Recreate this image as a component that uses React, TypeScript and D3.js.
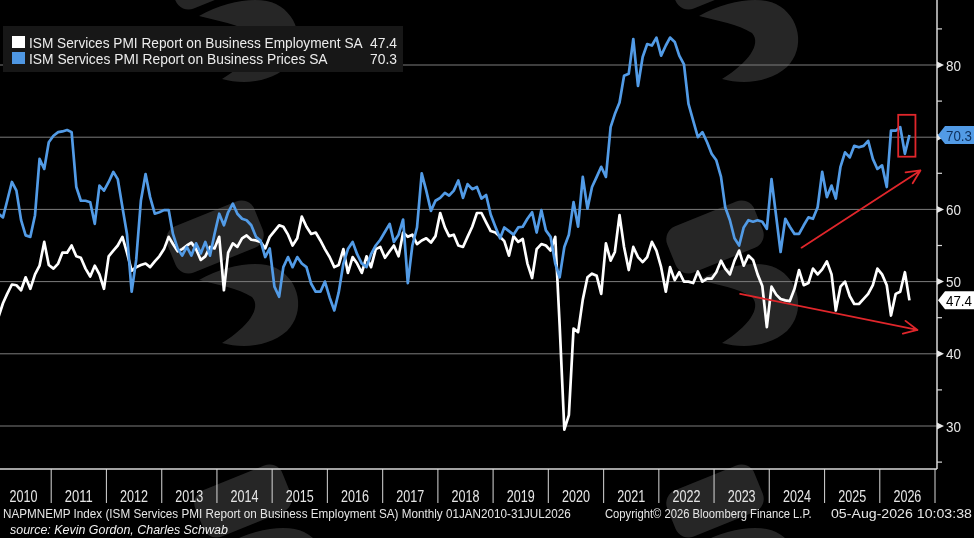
import { useEffect, useRef } from 'react'
import * as d3 from 'd3'

// ISM Services PMI, monthly Jan 2010 - Jul 2026
const startYear = 2010
const yearLabels = ['2010', '2011', '2012', '2013', '2014', '2015', '2016', '2017', '2018',
  '2019', '2020', '2021', '2022', '2023', '2024', '2025', '2026']
const yTicks = [30, 40, 50, 60, 70, 80]
const yMinorTicks = [25, 35, 45, 55, 65, 75, 85]

const employment = [
  45.0, 47.0, 48.3, 49.6, 49.5, 48.8, 50.6, 49.0, 51.0, 52.2, 55.5, 52.3,
  51.8, 52.5, 54.0, 54.0, 55.0, 53.5, 53.3, 51.8, 50.7, 52.2, 51.0, 49.0,
  53.5, 54.3, 55.0, 56.2, 54.0, 51.5, 52.0, 52.3, 52.5, 52.0, 52.8, 53.5,
  54.5, 56.2, 55.2, 54.2, 54.5, 55.0, 55.4, 54.5, 53.0, 53.5, 54.8, 54.6,
  56.2, 48.8, 54.0, 55.3, 54.8, 56.0, 56.4, 55.8, 55.7, 55.5, 54.6, 56.2,
  57.0, 57.8, 57.6, 56.5, 55.0, 56.0, 59.0, 57.6, 56.6, 56.8, 55.7, 54.5,
  53.4, 52.0, 52.3, 54.5, 51.2, 53.4, 52.5, 51.2, 53.5, 52.0, 54.5, 54.8,
  53.3, 54.2, 55.0, 53.5, 56.8, 56.2, 56.5, 55.2, 55.7, 56.0, 55.4, 56.3,
  59.5, 57.5, 56.3, 56.5, 55.0, 54.8, 56.2, 57.6, 59.5, 59.5, 58.2, 57.0,
  56.8, 56.2, 55.6, 53.6, 56.3, 55.5, 55.9, 52.5, 50.5, 54.5, 55.2, 55.0,
  54.3, 56.2, 44.0, 29.5, 31.5, 43.5, 43.0, 47.5, 50.6, 51.1, 50.8, 48.3,
  55.3, 52.9, 54.1, 59.2, 54.8, 51.6, 54.8, 53.4, 52.7, 53.4, 55.5, 54.3,
  52.0, 48.6, 52.0, 50.2, 51.3, 50.0, 50.0, 49.8, 51.4, 50.0, 50.4, 50.4,
  51.3, 52.9, 51.8, 51.0, 52.9, 54.3, 52.2, 53.6, 53.0, 51.0, 49.4, 43.7,
  49.3, 48.2, 47.6, 47.4, 47.3, 49.0, 51.6, 49.5, 49.8, 51.8, 51.0, 51.7,
  52.8, 51.0, 46.0, 49.3, 50.0, 48.0, 46.9, 46.9, 47.6, 48.3, 49.5, 51.8,
  51.0, 49.5, 45.3, 48.3, 48.6, 51.3, 47.4,
]

const prices = [
  59.4, 58.9, 61.2, 63.8, 62.6, 58.5, 56.4, 56.2, 59.2, 67.0, 65.6, 69.3,
  70.2, 70.7, 70.8, 71.0, 70.7, 63.1, 61.2, 61.2, 61.0, 58.0, 63.3, 62.6,
  63.8, 65.2, 64.2, 60.3, 56.6, 48.6, 53.0, 61.2, 64.9, 61.7, 59.4, 59.6,
  59.9, 59.9, 56.6, 54.6, 53.6, 54.8, 53.6, 55.3, 53.9, 55.5, 53.6, 56.6,
  59.4, 57.8, 59.6, 60.8, 59.4, 58.7, 58.5, 57.8, 56.2, 55.7, 53.4, 54.6,
  49.3, 47.9, 52.0, 53.4, 52.0, 53.4, 52.5, 52.0, 49.7, 48.6, 48.6, 50.0,
  47.8, 46.0, 48.5, 52.5, 54.5, 55.5, 53.8, 52.5, 52.0, 53.8, 55.0, 55.8,
  56.9, 58.0, 55.5, 56.5, 58.6, 49.8, 55.0, 57.5, 65.0, 62.6, 59.8, 61.2,
  61.6, 62.3, 61.9, 62.6, 64.0, 61.6, 63.5, 62.8, 63.1, 61.5, 62.0, 59.3,
  57.6, 56.0, 57.5, 57.0, 56.5, 57.5, 57.6, 58.7, 59.6, 56.8, 59.9, 57.1,
  56.2, 52.5, 50.6, 54.8, 56.5, 61.0, 57.6, 64.5, 60.1, 63.1, 64.5, 65.9,
  64.5, 71.4, 73.2, 74.8, 78.5, 78.8, 83.6, 77.1, 81.1, 82.9, 82.7, 83.8,
  81.3, 82.7, 83.8, 83.2, 81.3, 80.1, 74.6, 72.3, 70.0, 70.7, 69.3, 67.7,
  66.8, 64.5, 60.3, 58.5, 56.0, 55.0, 57.5, 58.5, 58.3, 58.5, 58.3, 57.3,
  64.2, 59.0, 54.1, 58.7, 57.6, 56.6, 56.6, 57.8, 58.9, 58.7, 60.3, 65.2,
  61.7, 63.3, 61.5, 65.9, 67.9, 67.2, 68.8, 68.6, 68.8, 69.5, 67.0, 65.6,
  66.1, 63.1, 70.9, 70.9, 71.4, 67.7, 70.3,
]

const legendItems = [
  { label: 'ISM Services PMI Report on Business Employment SA', value: '47.4', color: '#ffffff', width: 334 },
  { label: 'ISM Services PMI Report on Business Prices SA', value: '70.3', color: '#4f97e3', width: 299 },
]

// watermark glyph anchors (top-left of each logo)
const watermarks: [number, number][] = [[172, -64], [672, -64], [172, 200], [672, 200], [200, 464], [672, 464]]

const FONT = "'Liberation Sans', Arimo, Arial, sans-serif"

// Bloomberg's narrow font is not installed: draw a regular sans and squeeze it
// horizontally to the width measured on the reference
const squeeze = (sel: d3.Selection<SVGTextElement, any, any, any>, x: number, y: number, w: number) => {
  const node = sel.node()
  const natural = node ? node.getComputedTextLength() : w
  const s = natural > 0 ? w / natural : 1
  sel.attr('x', 0).attr('y', 0).attr('transform', `translate(${x},${y}) scale(${s},1)`)
}

export default function App() {
  const svgRef = useRef<SVGSVGElement>(null)

  useEffect(() => {
    if (!svgRef.current) return
    document.body.style.margin = '0'
    document.body.style.background = '#000'

    const width = 974
    const height = 538
    const plotRight = 937
    const plotBottom = 469

    const svg = d3.select(svgRef.current)
    svg.selectAll('*').remove()

    const x = d3.scaleTime()
      .domain([new Date(startYear, 0, 1), new Date(startYear + yearLabels.length, 0, 1)])
      .range([-4, 935])
    const y = d3.scaleLinear().domain([30, 80]).range([426, 65])

    const dateOf = (i: number) => new Date(startYear, i, 16)

    svg.append('rect').attr('width', width).attr('height', height).attr('fill', '#000')

    svg.append('defs').append('clipPath').attr('id', 'plot-clip')
      .append('rect').attr('x', 0).attr('y', 0).attr('width', plotRight).attr('height', plotBottom)

    // faint logo watermarks behind everything
    const wm = svg.append('g').attr('fill', '#2b2b2b').attr('opacity', 0.9)
    watermarks.forEach(([ox, oy]) => {
      const g = wm.append('g').attr('transform', `translate(${ox},${oy})`)
      g.append('rect')
        .attr('x', -4).attr('y', 12).attr('width', 94).attr('height', 50).attr('rx', 14)
        .attr('transform', 'rotate(-22 43 37)')
      g.append('path')
        .attr('d', 'M27,80C55,64 88,60 104,68C128,80 134,112 115,131C98,146 72,149 50,143' +
          'C76,127 90,108 80,97C66,88 46,85 27,80Z')
    })

    // gridlines
    svg.append('g')
      .selectAll('line')
      .data(yTicks)
      .join('line')
      .attr('x1', 0).attr('x2', plotRight)
      .attr('y1', d => y(d)).attr('y2', d => y(d))
      .attr('stroke', '#7c7c7c').attr('stroke-width', 1)

    // series
    const line = d3.line<number>()
      .x((_, i) => x(dateOf(i)))
      .y(d => y(d))

    const lines = svg.append('g').attr('clip-path', 'url(#plot-clip)')
    lines.append('path').datum(employment)
      .attr('d', line).attr('fill', 'none')
      .attr('stroke', '#ffffff').attr('stroke-width', 2.7).attr('stroke-linejoin', 'round')
    lines.append('path').datum(prices)
      .attr('d', line).attr('fill', 'none')
      .attr('stroke', '#529be6').attr('stroke-width', 2.7).attr('stroke-linejoin', 'round')

    // red annotations
    const red = '#e0262b'
    const anno = svg.append('g').attr('stroke', red).attr('fill', 'none').attr('stroke-width', 1.8)
    const last = prices.length - 1
    anno.append('rect')
      .attr('x', x(dateOf(last - 2)) - 2).attr('y', y(73.1))
      .attr('width', x(dateOf(last)) - x(dateOf(last - 2)) + 8)
      .attr('height', y(67.3) - y(73.1))
    const arrow = (x1: number, y1: number, x2: number, y2: number) => {
      const a = Math.atan2(y2 - y1, x2 - x1)
      const L = 15
      const s = 0.45
      anno.append('path')
        .attr('stroke-linecap', 'round').attr('stroke-linejoin', 'round')
        .attr('d', `M${x1},${y1}L${x2},${y2}` +
          `M${x2 - L * Math.cos(a - s)},${y2 - L * Math.sin(a - s)}L${x2},${y2}` +
          `L${x2 - L * Math.cos(a + s)},${y2 - L * Math.sin(a + s)}`)
    }
    arrow(x(dateOf(168)) + 30, y(54.7), x(dateOf(last)) + 11, y(65.4))
    arrow(x(dateOf(161)) + 1, y(48.3), x(dateOf(last)) + 8, y(43.3))

    // right axis
    const lastValues = [prices[last], employment[last]]
    const axis = svg.append('g')
    axis.append('line').attr('x1', plotRight).attr('x2', plotRight).attr('y1', 0).attr('y2', plotBottom)
      .attr('stroke', '#d9d9d9').attr('stroke-width', 1.5)
    axis.selectAll('line.minor').data(yMinorTicks).join('line')
      .attr('class', 'minor')
      .attr('x1', plotRight).attr('x2', plotRight + 5)
      .attr('y1', d => y(d)).attr('y2', d => y(d))
      .attr('stroke', '#d9d9d9').attr('stroke-width', 1.2)
    axis.selectAll('path.tri').data(yTicks).join('path')
      .attr('class', 'tri')
      .attr('d', d => `M${plotRight},${y(d) - 3.5}L${plotRight + 7},${y(d)}L${plotRight},${y(d) + 3.5}Z`)
      .attr('fill', '#e6e6e6')
    // labels hidden under a last-value badge are not drawn
    const visibleTicks = yTicks.filter(t => lastValues.every(v => Math.abs(y(t) - y(v)) > 12))
    visibleTicks.forEach(t => {
      axis.append('text')
        .attr('fill', '#e6e6e6').style('font', `15px ${FONT}`)
        .text(t)
        .call(squeeze, plotRight + 9, y(t) + 5.5, 15)
    })

    // bottom axis
    const bottom = svg.append('g')
    bottom.append('line').attr('x1', 0).attr('x2', plotRight).attr('y1', plotBottom).attr('y2', plotBottom)
      .attr('stroke', '#d9d9d9').attr('stroke-width', 1.5)
    bottom.selectAll('line.sep').data(yearLabels.map((_, i) => startYear + i + 1)).join('line')
      .attr('class', 'sep')
      .attr('x1', d => x(new Date(d, 0, 1))).attr('x2', d => x(new Date(d, 0, 1)))
      .attr('y1', plotBottom).attr('y2', 503)
      .attr('stroke', '#d9d9d9').attr('stroke-width', 1)
    yearLabels.forEach((label, i) => {
      const cx = (x(new Date(startYear + i, 0, 1)) + x(new Date(startYear + i + 1, 0, 1))) / 2
      bottom.append('text')
        .attr('fill', '#e6e6e6').style('font', `16px ${FONT}`)
        .text(label)
        .call(squeeze, cx - 14, 502, 28)
    })

    // legend
    const legend = svg.append('g')
    legend.append('rect').attr('x', 3).attr('y', 26).attr('width', 400).attr('height', 46)
      .attr('fill', '#171717')
    legendItems.forEach((d, i) => {
      const cy = 42 + i * 16
      legend.append('rect').attr('x', 12).attr('y', cy - 6).attr('width', 13).attr('height', 12).attr('fill', d.color)
      legend.append('text')
        .attr('fill', '#ececec').style('font', `15px ${FONT}`)
        .text(d.label)
        .call(squeeze, 29, cy + 5.5, d.width)
      legend.append('text')
        .attr('fill', '#ececec').style('font', `15px ${FONT}`)
        .text(d.value)
        .call(squeeze, 370, cy + 5.5, 27)
    })

    // last value badges
    const badge = (v: number, fill: string, textFill: string) => {
      const cy = y(v)
      svg.append('path')
        .attr('d', `M${plotRight + 1},${cy}L${plotRight + 8},${cy - 9}L${width},${cy - 9}L${width},${cy + 9}L${plotRight + 8},${cy + 9}Z`)
        .attr('fill', fill)
      svg.append('text')
        .attr('fill', textFill).style('font', `15px ${FONT}`)
        .text(v.toFixed(1))
        .call(squeeze, 946, cy + 5.5, 26)
    }
    badge(prices[last], '#529be6', '#0d2f5c')
    badge(employment[last], '#ffffff', '#000000')

    // footer
    const foot = svg.append('g').attr('fill', '#e6e6e6').style('font', `13.5px ${FONT}`)
    foot.append('text')
      .text('NAPMNEMP Index (ISM Services PMI Report on Business Employment SA) Monthly 01JAN2010-31JUL2026')
      .call(squeeze, 3, 518, 568)
    foot.append('text')
      .text('Copyright\u00a9 2026 Bloomberg Finance L.P.')
      .call(squeeze, 605, 518, 207)
    foot.append('text')
      .text('05-Aug-2026 10:03:38')
      .call(squeeze, 831, 518, 141)
    svg.append('text')
      .attr('fill', '#f0f0f0').style('font', `italic 13px ${FONT}`)
      .text('source: Kevin Gordon, Charles Schwab')
      .call(squeeze, 10, 534, 218)

    return () => {
      svg.selectAll('*').remove()
    }
  }, [])

  return (
    <div style={{ position: 'absolute', left: 0, top: 0 }}>
      <svg ref={svgRef} width={974} height={538} style={{ display: 'block' }} />
    </div>
  )
}
